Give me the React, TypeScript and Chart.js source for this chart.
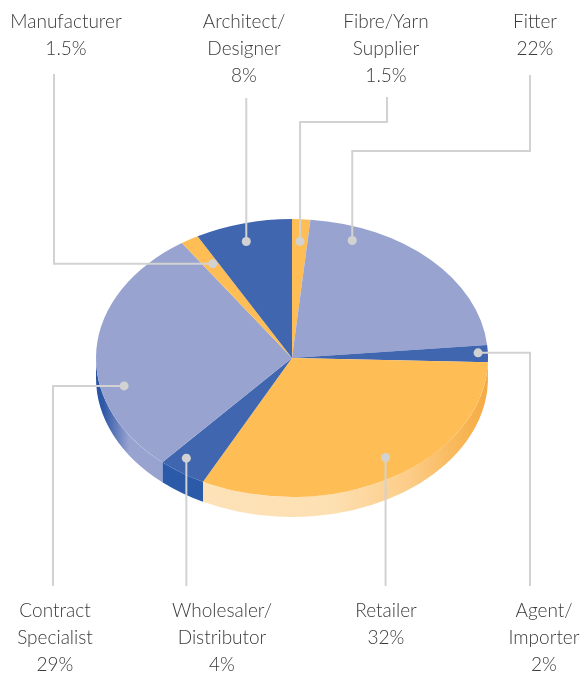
import React, { useEffect, useRef } from 'react';
import { Chart, registerables } from 'chart.js';

Chart.register(...registerables);

// ---- data ----
const categoryLines: string[][] = [
  ['Fibre/Yarn', 'Supplier'],
  ['Fitter'],
  ['Agent/', 'Importer'],
  ['Retailer'],
  ['Wholesaler/', 'Distributor'],
  ['Contract', 'Specialist'],
  ['Manufacturer'],
  ['Architect/', 'Designer'],
];
const shares: number[] = [1.5, 22, 2, 32, 4, 29, 1.5, 8];
const percentLabels: string[] = ['1.5%', '22%', '2%', '32%', '4%', '29%', '1.5%', '8%'];

// ---- styles ----
const BLUE = '#4166b0';
const LAV = '#99a3d0';
const YEL = '#febe55';
const topColors = [YEL, LAV, BLUE, YEL, BLUE, LAV, YEL, BLUE];
// side gradient stops across the pie diameter (0 = left edge, 1 = right edge)
const sideStops: [number, string][][] = [
  [[0, '#f5ab44'], [1, '#f5ab44']],
  [[0, '#7f8cc4'], [1, '#7f8cc4']],
  [[0, '#2f5aa5'], [1, '#2f5aa5']],
  [[0, '#fee4bd'], [0.6, '#fde0b2'], [0.8, '#fccc88'], [0.93, '#f8b656'], [1, '#f5ab44']],
  [[0, '#2b5aa8'], [1, '#2b5aa8']],
  [[0, '#2852a3'], [0.02, '#3059a8'], [0.085, '#99a3d0'], [1, '#99a3d0']],
  [[0, '#f5ab44'], [1, '#f5ab44']],
  [[0, '#2b5aa8'], [1, '#2b5aa8']],
];
const TILT = 0.709;
const DEPTH = 20;
const LINE_COLOR = '#d2d2d2';
const TEXT_COLOR = '#3a3a3a';
const FONT = '300 19px Lato, "Open Sans", sans-serif';
const LINE_H = 27;

// leader dots: position within slice (angle fraction t, radius fraction f)
const dotPlace: [number, number][] = [
  [0.52, 0.84],
  [0.184, 0.9],
  [0.44, 0.95],
  [0.473, 0.86],
  [0.68, 0.9],
  [0.339, 0.88],
  [0.63, 0.79],
  [0.46, 0.87],
];
// leader routes: sequence of ['h', x] / ['v', y] moves from the dot
const routes: [string, number][][] = [
  [['v', 122], ['h', 387], ['v', 97]],
  [['v', 151], ['h', 530], ['v', 75]],
  [['h', 530], ['v', 586]],
  [['v', 586]],
  [['v', 586]],
  [['h', 53], ['v', 586]],
  [['h', 54], ['v', 74]],
  [['v', 98]],
];
// label anchors: centre x and baseline of first line
const labelPos: [number, number][] = [
  [386, 28],
  [535, 28],
  [544, 617],
  [386, 617],
  [222, 617],
  [55, 617],
  [66, 28],
  [244, 28],
];

const pie3d = {
  id: 'pie3d',
  beforeDatasetsDraw(chart: any) {
    const ctx: CanvasRenderingContext2D = chart.ctx;
    const arcs: any[] = chart.getDatasetMeta(0).data;
    const cx = arcs[0].x;
    const cy = arcs[0].y;
    const r = arcs[0].outerRadius;
    ctx.save();
    arcs.forEach((el, i) => {
      const a = Math.max(el.startAngle, 0);
      const b = Math.min(el.endAngle, Math.PI);
      if (b <= a) return;
      const g = ctx.createLinearGradient(cx - r, 0, cx + r, 0);
      sideStops[i].forEach(([p, c]) => g.addColorStop(p, c));
      ctx.beginPath();
      ctx.ellipse(cx, cy, r, r * TILT, 0, a, b);
      ctx.ellipse(cx, cy + DEPTH, r, r * TILT, 0, b, a, true);
      ctx.closePath();
      ctx.fillStyle = g;
      ctx.fill();
    });
    ctx.translate(cx, cy);
    ctx.scale(1, TILT);
    ctx.translate(-cx, -cy);
  },
  afterDatasetsDraw(chart: any) {
    const ctx: CanvasRenderingContext2D = chart.ctx;
    ctx.restore();
    const arcs: any[] = chart.getDatasetMeta(0).data;
    ctx.save();
    arcs.forEach((el, i) => {
      const [t, f] = dotPlace[i];
      const ang = el.startAngle + t * (el.endAngle - el.startAngle);
      const R = f * el.outerRadius;
      let x = el.x + R * Math.cos(ang);
      let y = el.y + TILT * R * Math.sin(ang);
      const dx = x;
      const dy = y;
      ctx.strokeStyle = LINE_COLOR;
      ctx.lineWidth = 2;
      ctx.beginPath();
      ctx.moveTo(x, y);
      routes[i].forEach(([dir, v]) => {
        if (dir === 'h') x = v;
        else y = v;
        ctx.lineTo(x, y);
      });
      ctx.stroke();
      ctx.fillStyle = LINE_COLOR;
      ctx.beginPath();
      ctx.arc(dx, dy, 4.5, 0, Math.PI * 2);
      ctx.fill();
      // label
      const lines = [...categoryLines[i], percentLabels[i]];
      const [lx, ly] = labelPos[i];
      ctx.fillStyle = TEXT_COLOR;
      ctx.font = FONT;
      ctx.textAlign = 'center';
      ctx.textBaseline = 'alphabetic';
      lines.forEach((s, k) => ctx.fillText(s, lx, ly + k * LINE_H));
    });
    ctx.restore();
  },
};

export default function App() {
  const ref = useRef<HTMLCanvasElement>(null);
  useEffect(() => {
    if (!ref.current) return;
    const chart = new Chart(ref.current, {
      type: 'pie',
      data: {
        labels: categoryLines,
        datasets: [
          {
            data: shares,
            backgroundColor: topColors,
            borderWidth: 0,
            hoverOffset: 0,
            offset: 0,
          },
        ],
      },
      options: {
        responsive: false,
        animation: false,
        events: [],
        layout: { padding: { left: 96, right: 96, top: 162, bottom: 119 } },
        plugins: {
          legend: { display: false },
          tooltip: { enabled: false },
        },
      },
      plugins: [pie3d],
    } as any);
    return () => chart.destroy();
  }, []);
  return (
    <div style={{ position: 'fixed', left: 0, top: 0, width: 584, height: 673, background: '#fff' }}>
      <canvas ref={ref} width={584} height={673} style={{ width: 584, height: 673 }} />
    </div>
  );
}
